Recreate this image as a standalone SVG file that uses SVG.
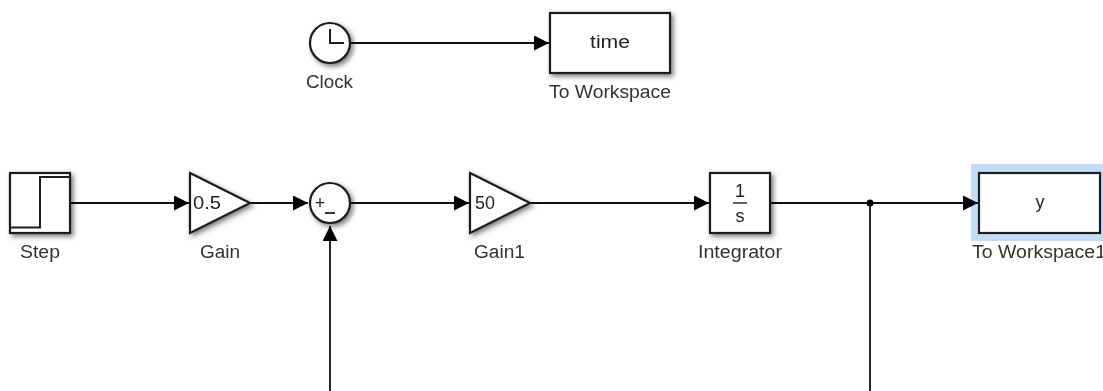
<svg xmlns="http://www.w3.org/2000/svg" width="1103" height="391" viewBox="0 0 1103 391">
<style>
.b{fill:#fff;stroke:#1c1c1c;stroke-width:2.2;filter:url(#sh)}
.i{fill:none;stroke:#1c1c1c;stroke-width:2}
.w{fill:none;stroke:#111;stroke-width:1.8}
.t{font-family:"Liberation Sans",Arial,sans-serif;font-size:18px;fill:#333;text-anchor:middle}
.v{font-family:"Liberation Sans",Arial,sans-serif;font-size:18px;fill:#222;text-anchor:middle}
</style>
<defs>
<filter id="sh" x="-20%" y="-20%" width="150%" height="150%"><feDropShadow dx="2.5" dy="2.5" stdDeviation="2.5" flood-color="#000" flood-opacity="0.5"/></filter>
<filter id="soft" filterUnits="userSpaceOnUse" x="0" y="0" width="1103" height="391"><feGaussianBlur stdDeviation="0.55"/></filter>
<marker id="a" markerUnits="userSpaceOnUse" markerWidth="16" markerHeight="16" refX="15" refY="7.5" orient="auto"><path d="M0 0L15 7.5L0 15Z" fill="#000"/></marker>
</defs>
<rect width="1103" height="391" fill="#fff"/>
<g filter="url(#soft)">
<g id="to-workspace1">
<rect x="971" y="164" width="132" height="77" fill="#c5dcf9"/>
<rect x="979" y="173" width="121" height="60" fill="#fff" stroke="#1c1c1c" stroke-width="2.2"/>
<text class="v" x="1040" y="208">y</text>
<text class="t" x="1039" y="258" textLength="134" lengthAdjust="spacingAndGlyphs">To Workspace1</text>
</g>
<g id="connectors">
<path class="w" d="M351 43H549" marker-end="url(#a)"/>
<path class="w" d="M71 203H189" marker-end="url(#a)"/>
<path class="w" d="M250 203H308" marker-end="url(#a)"/>
<path class="w" d="M351 203H469" marker-end="url(#a)"/>
<path class="w" d="M530 203H709" marker-end="url(#a)"/>
<path class="w" d="M771 203H978" marker-end="url(#a)"/>
<path class="w" d="M330 391V226" marker-end="url(#a)"/>
<path class="w" d="M870 391V203"/>
<circle cx="870" cy="203" r="3.5" fill="#000"/>
</g>
<g id="clock">
<circle class="b" cx="330" cy="43" r="20"/>
<path class="i" d="M330 29V43H344"/>
<text class="t" x="329.500" y="88" textLength="47" lengthAdjust="spacingAndGlyphs">Clock</text>
</g>
<g id="to-workspace">
<rect class="b" x="550" y="13" width="120" height="60"/>
<text class="v" x="610" y="48" textLength="40" lengthAdjust="spacingAndGlyphs">time</text>
<text class="t" x="610" y="98" textLength="122" lengthAdjust="spacingAndGlyphs">To Workspace</text>
</g>
<g id="step">
<rect class="b" x="10" y="173" width="60" height="60"/>
<path class="i" d="M10 227.500H40V177H70"/>
<text class="t" x="40" y="258" textLength="40" lengthAdjust="spacingAndGlyphs">Step</text>
</g>
<g id="gain">
<path class="b" d="M190 173L250 203L190 233Z"/>
<text class="v" x="207" y="209" textLength="28" lengthAdjust="spacingAndGlyphs">0.5</text>
<text class="t" x="220" y="258" textLength="40" lengthAdjust="spacingAndGlyphs">Gain</text>
</g>
<g id="sum">
<circle class="b" cx="330" cy="203" r="20"/>
<text class="v" x="320" y="209">+</text>
<path d="M325 213H335" stroke="#222" stroke-width="1.8"/>
</g>
<g id="gain1">
<path class="b" d="M470 173L530 203L470 233Z"/>
<text class="v" x="485" y="209" textLength="20" lengthAdjust="spacingAndGlyphs">50</text>
<text class="t" x="499.500" y="258" textLength="51" lengthAdjust="spacingAndGlyphs">Gain1</text>
</g>
<g id="integrator">
<rect class="b" x="710" y="173" width="60" height="60"/>
<text class="v" x="740" y="197">1</text>
<path d="M733 203H747" stroke="#222" stroke-width="1.4"/>
<text class="v" x="740" y="222">s</text>
<text class="t" x="740" y="258" textLength="84" lengthAdjust="spacingAndGlyphs">Integrator</text>
</g>
</g>
</svg>
